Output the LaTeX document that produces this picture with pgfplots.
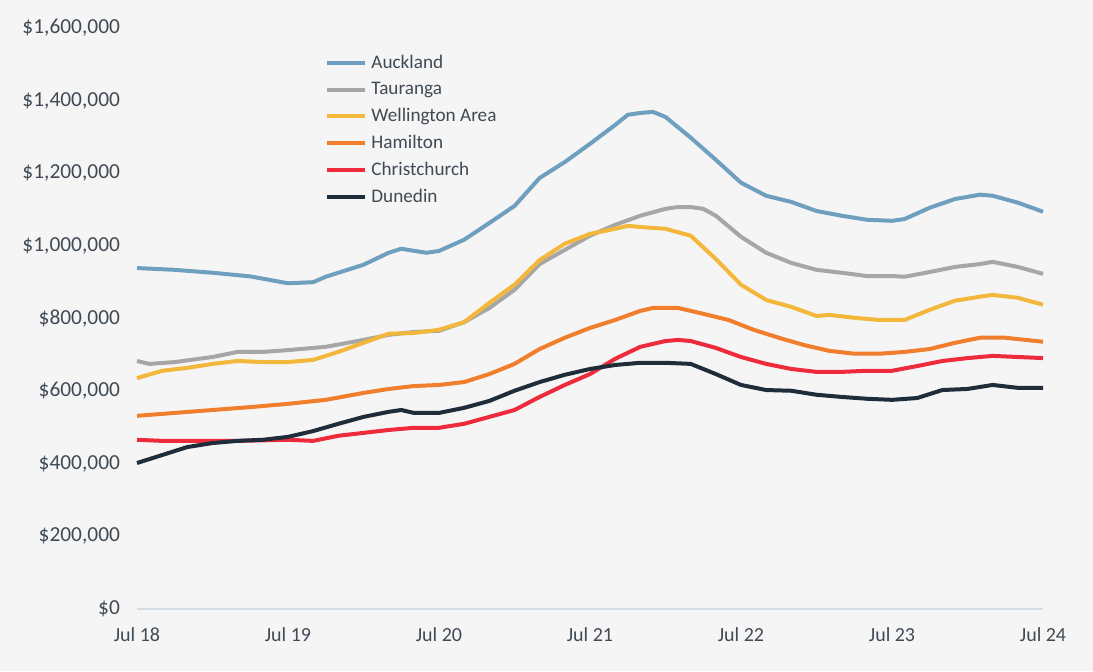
\documentclass[border=0pt]{standalone}
\usepackage{pgfplots}
\pgfplotsset{compat=1.18}
\usepackage{fontspec}
\setmainfont{Carlito}
\definecolor{bg}{HTML}{F5F5F5}
\definecolor{txt}{HTML}{404A54}
\definecolor{cAk}{HTML}{6F9FBF}
\definecolor{cTg}{HTML}{A6A6A6}
\definecolor{cWl}{HTML}{F3B73B}
\definecolor{cHm}{HTML}{F07E2D}
\definecolor{cCh}{HTML}{EE2B3B}
\definecolor{cDn}{HTML}{1F2D3A}
\definecolor{axl}{HTML}{D5DEE6}
\begin{document}
\begin{tikzpicture}
\path[use as bounding box, fill=bg] (0,0) rectangle (546.5pt,335.5pt);
\begin{axis}[
  at={(68.5pt,31pt)}, anchor=south west,
  scale only axis, width=453pt, height=290.5pt,
  xmin=0, xmax=72, ymin=0, ymax=1600000,
  axis lines*=left, axis line style={draw=none},
  scaled y ticks=false,
  xtick={0,12,24,36,48,60,72},
  xticklabels={Jul 18,Jul 19,Jul 20,Jul 21,Jul 22,Jul 23,Jul 24},
  ytick={0,200000,400000,600000,800000,1000000,1200000,1400000,1600000},
  yticklabels={\$0,{\$200,000},{\$400,000},{\$600,000},{\$800,000},{\$1,000,000},{\$1,200,000},{\$1,400,000},{\$1,600,000}},
  tick style={draw=none},
  every tick label/.append style={text=txt},
  yticklabel style={font=\fontsize{10.7}{12}\selectfont, xshift=-5pt},
  xticklabel style={font=\fontsize{10}{12}\selectfont, yshift=-6pt},
  clip=false,
  legend style={at={(0.2075,0.961)}, anchor=north west, draw=none, fill=none,
    font=\fontsize{9.6}{11.5}\selectfont, text=txt, row sep=1.3pt, inner sep=0pt},
  legend cell align=left,
  legend image code/.code={\draw[#1, line width=2pt] (0pt,0pt) -- (19pt,0pt);},
  every axis plot/.append style={line width=2pt, line join=round},
]
\draw[axl, line width=0.8pt] (axis cs:0,0) -- (axis cs:72,0);
\addplot[cAk] coordinates {(0,939000)(3,934000)(6,926000)(9,916000)(12,897000)(14,900000)(15,915000)(18,948000)(20,981000)(21,992000)(23,981000)(24,986000)(26,1017000)(28,1063000)(30,1110000)(32,1187000)(34,1231000)(36,1281000)(38,1333000)(39,1361000)(40,1366000)(41,1369000)(42,1355000)(44,1298000)(46,1237000)(48,1174000)(50,1138000)(52,1121000)(54,1096000)(56,1083000)(58,1072000)(60,1069000)(61,1074000)(63,1105000)(65,1129000)(67,1141000)(68,1138000)(70,1119000)(72,1094000)};
\addlegendentry{Auckland}
\addplot[cTg] coordinates {(0,683000)(1,675000)(3,680000)(6,694000)(8,708000)(10,708000)(12,713000)(15,722000)(18,741000)(20,755000)(22,763000)(24,766000)(26,790000)(28,829000)(30,879000)(32,950000)(34,989000)(36,1028000)(38,1058000)(40,1083000)(42,1102000)(43,1107000)(44,1107000)(45,1102000)(46,1083000)(48,1025000)(50,981000)(52,953000)(54,934000)(56,926000)(58,917000)(60,917000)(61,915000)(63,928000)(65,942000)(67,950000)(68,956000)(70,942000)(72,923000)};
\addlegendentry{Tauranga}
\addplot[cWl] coordinates {(0,636000)(2,656000)(4,664000)(6,675000)(8,683000)(10,680000)(12,680000)(14,686000)(16,708000)(18,733000)(20,758000)(22,760000)(24,769000)(26,790000)(28,843000)(30,893000)(32,961000)(34,1006000)(36,1033000)(38,1047000)(39,1055000)(40,1052000)(42,1047000)(44,1028000)(46,964000)(48,893000)(50,851000)(52,832000)(54,807000)(55,810000)(57,802000)(59,796000)(61,796000)(63,824000)(65,849000)(67,860000)(68,865000)(70,857000)(72,838000)};
\addlegendentry{Wellington Area}
\addplot[cHm] coordinates {(0,532000)(3,540000)(6,548000)(9,556000)(12,565000)(15,576000)(18,595000)(20,606000)(22,614000)(24,617000)(26,625000)(28,647000)(30,675000)(32,716000)(34,747000)(36,774000)(38,796000)(40,821000)(41,829000)(43,829000)(45,813000)(47,796000)(49,769000)(51,747000)(53,727000)(55,711000)(57,703000)(59,703000)(61,708000)(63,716000)(65,733000)(67,747000)(69,747000)(72,736000)};
\addlegendentry{Hamilton}
\addplot[cCh] coordinates {(0,466000)(2,463000)(4,463000)(8,463000)(12,466000)(14,463000)(16,477000)(18,485000)(20,493000)(22,499000)(24,499000)(26,510000)(28,529000)(30,548000)(32,584000)(34,617000)(36,647000)(38,689000)(40,722000)(42,738000)(43,741000)(44,738000)(46,719000)(48,694000)(50,675000)(52,661000)(54,653000)(56,653000)(58,656000)(60,656000)(62,669000)(64,683000)(66,691000)(68,697000)(70,694000)(72,691000)};
\addlegendentry{Christchurch}
\addplot[cDn] coordinates {(0,402000)(2,424000)(4,446000)(6,457000)(8,463000)(10,466000)(12,474000)(14,490000)(16,510000)(18,529000)(20,543000)(21,548000)(22,540000)(24,540000)(26,554000)(28,573000)(30,601000)(32,625000)(34,645000)(36,661000)(38,672000)(40,678000)(42,678000)(44,675000)(46,647000)(48,617000)(50,603000)(52,601000)(54,590000)(56,584000)(58,579000)(60,576000)(62,581000)(64,603000)(66,606000)(68,617000)(70,609000)(72,609000)};
\addlegendentry{Dunedin}
\end{axis}
\end{tikzpicture}
\end{document}
